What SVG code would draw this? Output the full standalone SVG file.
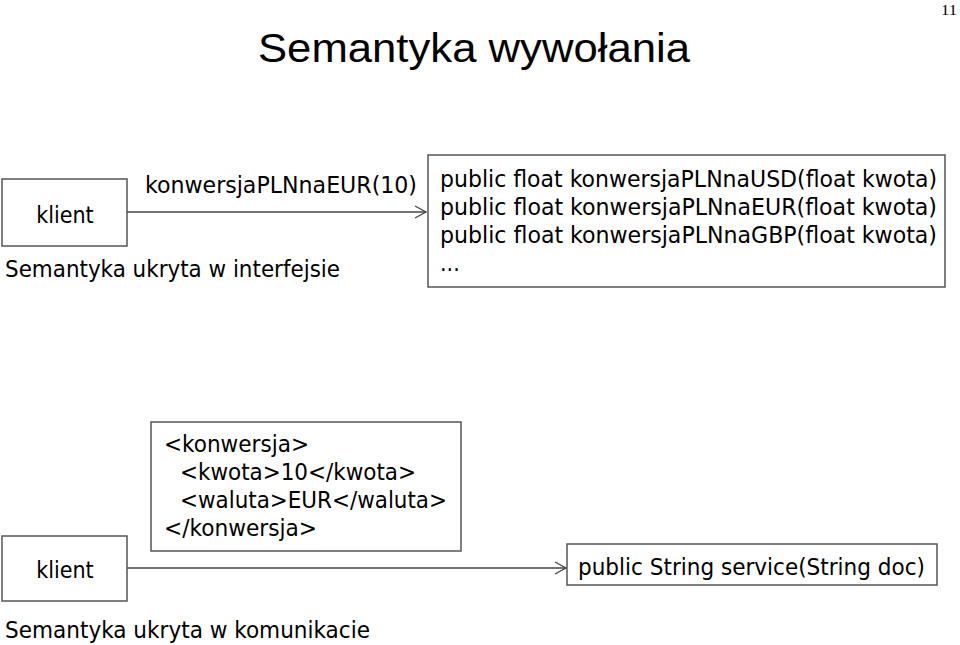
<svg xmlns="http://www.w3.org/2000/svg" width="960" height="645" viewBox="0 0 960 645">
<defs>
<style>
.t{font-family:"DejaVu Sans Condensed","DejaVu Sans",Verdana,sans-serif;font-size:23px;fill:#000}
.box{fill:#fff;stroke:#555;stroke-width:1.5}
.ln{stroke:#444;stroke-width:1.3;fill:none}
</style>
<marker id="arr" markerWidth="14" markerHeight="14" refX="12" refY="7" orient="auto" markerUnits="userSpaceOnUse">
<path d="M1,1 L12,7 L1,13" fill="none" stroke="#444" stroke-width="1.3"/>
</marker>
</defs>
<rect width="960" height="645" fill="#fff"/>
<text x="258" y="62" font-family="'Liberation Sans',Arial,sans-serif" font-size="40" textLength="432" lengthAdjust="spacingAndGlyphs">Semantyka wywołania</text>
<text x="941" y="15" font-family="'Liberation Serif','Times New Roman',serif" font-size="15" textLength="16" lengthAdjust="spacingAndGlyphs">11</text>

<g id="connectors">
<line class="ln" x1="127" y1="212" x2="426" y2="212" marker-end="url(#arr)"/>
<line class="ln" x1="127" y1="568" x2="566" y2="568" marker-end="url(#arr)"/>
</g>

<g id="klient1">
<rect class="box" x="2" y="179" width="125" height="67"/>
<text class="t" x="65" y="223" text-anchor="middle">klient</text>
</g>
<text class="t" x="145" y="193" textLength="272" lengthAdjust="spacingAndGlyphs">konwersjaPLNnaEUR(10)</text>
<text class="t" x="5" y="277" textLength="335" lengthAdjust="spacingAndGlyphs">Semantyka ukryta w interfejsie</text>

<g id="interfejs">
<rect class="box" x="428" y="155" width="517" height="132"/>
<text class="t" x="440" y="187" textLength="497" lengthAdjust="spacingAndGlyphs">public float konwersjaPLNnaUSD(float kwota)</text>
<text class="t" x="440" y="215" textLength="497" lengthAdjust="spacingAndGlyphs">public float konwersjaPLNnaEUR(float kwota)</text>
<text class="t" x="440" y="243" textLength="497" lengthAdjust="spacingAndGlyphs">public float konwersjaPLNnaGBP(float kwota)</text>
<text class="t" x="440" y="271">...</text>
</g>

<g id="dokument">
<rect class="box" x="151" y="422" width="310" height="129"/>
<text class="t" x="164" y="452" textLength="145" lengthAdjust="spacingAndGlyphs">&lt;konwersja&gt;</text>
<text class="t" x="180" y="480" textLength="236" lengthAdjust="spacingAndGlyphs">&lt;kwota&gt;10&lt;/kwota&gt;</text>
<text class="t" x="180" y="508" textLength="267" lengthAdjust="spacingAndGlyphs">&lt;waluta&gt;EUR&lt;/waluta&gt;</text>
<text class="t" x="164" y="536" textLength="153" lengthAdjust="spacingAndGlyphs">&lt;/konwersja&gt;</text>
</g>

<g id="klient2">
<rect class="box" x="2" y="536" width="125" height="65"/>
<text class="t" x="65" y="578" text-anchor="middle">klient</text>
</g>

<g id="service">
<rect class="box" x="567" y="544" width="370" height="41"/>
<text class="t" x="578" y="575" textLength="347" lengthAdjust="spacingAndGlyphs">public String service(String doc)</text>
</g>
<text class="t" x="5" y="638" textLength="365" lengthAdjust="spacingAndGlyphs">Semantyka ukryta w komunikacie</text>
</svg>
